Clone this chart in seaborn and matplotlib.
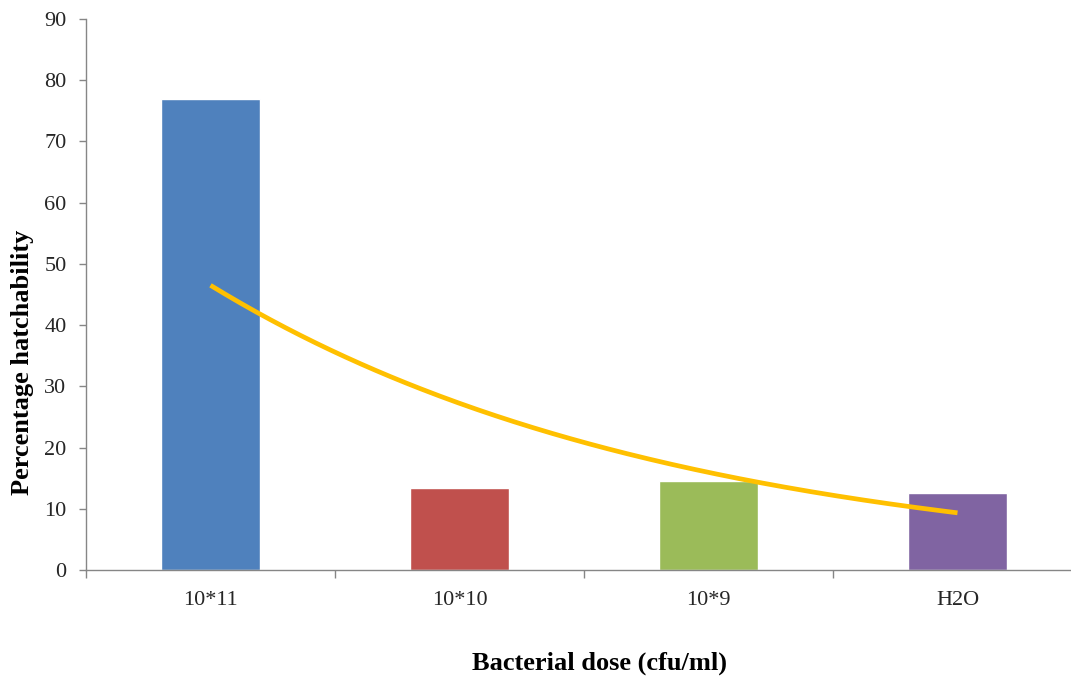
import numpy as np
import pandas as pd
import matplotlib
matplotlib.use("Agg")
import matplotlib.pyplot as plt
import seaborn as sns

doses = ["10*11", "10*10", "10*9", "H2O"]
hatchability = [77.0, 13.4, 14.5, 12.6]
bar_colors = ["#4F81BD", "#C0504D", "#9BBB59", "#8064A2"]
y_ticks = [0, 10, 20, 30, 40, 50, 60, 70, 80, 90]

sns.set_theme(style="white")
plt.rcParams["font.family"] = ["Liberation Serif", "DejaVu Serif"]

df = pd.DataFrame({"dose": doses, "pct": hatchability})

fig = plt.figure(figsize=(10.71, 6.79), dpi=100)
ax = fig.add_axes([86 / 1071, 1 - 570 / 679, 996 / 1071, 551 / 679])

sns.barplot(data=df, x="dose", y="pct", hue="dose", palette=bar_colors,
            width=0.4, saturation=1, legend=False, ax=ax)

# exponential trendline fitted to the bar values
xs = np.arange(1, len(hatchability) + 1)
b, ln_a = np.polyfit(xs, np.log(hatchability), 1)
xf = np.linspace(1, len(hatchability), 200)
ax.plot(xf - 1, np.exp(ln_a + b * xf), color="#FFC000", lw=3.4,
        solid_capstyle="butt", zorder=5)

ax.set_xlim(-0.5, len(doses) - 0.5)
ax.set_ylim(0, 90)
ax.set_yticks(y_ticks)

for side in ["top", "right"]:
    ax.spines[side].set_visible(False)
for side in ["left", "bottom"]:
    ax.spines[side].set_color("#868686")
    ax.spines[side].set_linewidth(1.0)

ax.tick_params(axis="y", which="major", direction="out", length=5, width=1,
               color="#868686", labelsize=16, pad=9, left=True,
               labelcolor="#262626")
ax.tick_params(axis="x", which="major", length=0, labelsize=16, pad=15,
               labelcolor="#262626")
# category separators on the x axis
ax.set_xticks(np.arange(-0.5, len(doses), 1.0), minor=True)
ax.tick_params(axis="x", which="minor", direction="out", length=6, width=1,
               color="#868686", bottom=True)

ax.set_xlabel("Bacterial dose (cfu/ml)", fontsize=19, fontweight="bold",
              color="black", va="center")
ax.xaxis.set_label_coords((600 - 86) / 996, (570 - 663) / 551)
ax.set_ylabel("Percentage hatchability", fontsize=19, fontweight="bold",
              color="black", va="center")
ax.yaxis.set_label_coords((22 - 86) / 996, (570 - 362) / 551)

fig.savefig("out.png", dpi=100)
